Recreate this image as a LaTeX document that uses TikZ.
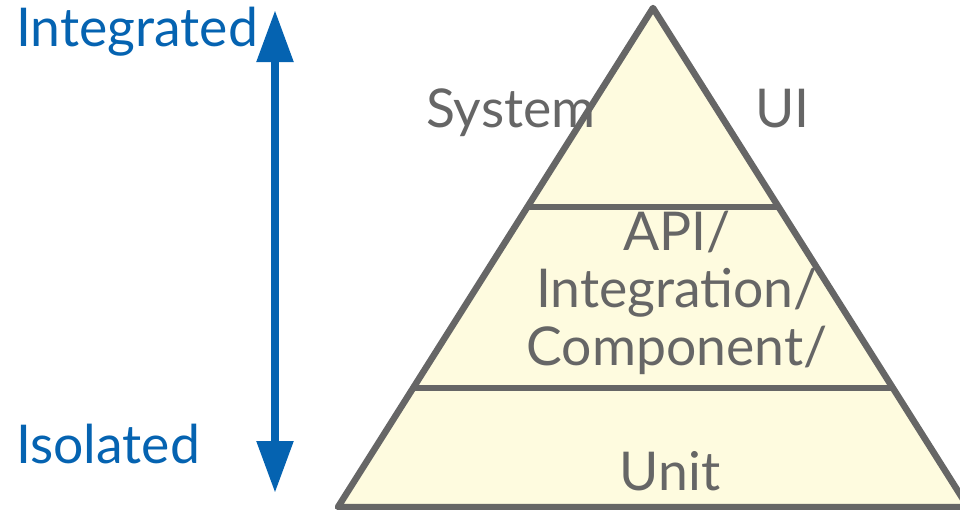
\documentclass[tikz,border=0pt]{standalone}
\usepackage{fontspec}
\setmainfont{Lato}
\usetikzlibrary{arrows.meta,calc}
\definecolor{levelgray}{HTML}{666666}
\definecolor{levelfill}{HTML}{FEFBDF}
\definecolor{axisblue}{HTML}{0563B1}
\tikzset{
  bigtext/.style={font=\fontsize{53.5}{57.5}\selectfont, inner sep=0pt},
  leveltext/.style={bigtext, text=levelgray},
  axistext/.style={bigtext, text=axisblue, anchor=base west},
  outline/.style={draw=levelgray, line width=6.5pt, line join=round},
  axis/.style={draw=axisblue, line width=8.5pt,
    {Triangle[length=52pt,width=35pt]}-{Triangle[length=52pt,width=35pt]}}
}
\begin{document}
\begin{tikzpicture}[x=1pt,y=-1pt]
  \useasboundingbox (0,0) rectangle (960,509);
  \clip (0,0) rectangle (960,509);

  % pyramid corners and level boundaries
  \coordinate (apex) at (653,8);
  \coordinate (bl) at (338,507);
  \coordinate (br) at (968,507);
  \coordinate (l1a) at ($(apex)!0.3988!(bl)$);
  \coordinate (l1b) at ($(apex)!0.3988!(br)$);
  \coordinate (l2a) at ($(apex)!0.7615!(bl)$);
  \coordinate (l2b) at ($(apex)!0.7615!(br)$);

  \fill[levelfill] (apex) -- (bl) -- (br) -- cycle;

  % level labels
  \node[leveltext, anchor=base west] (system) at (426,127) {System};
  \node[leveltext, anchor=base west] (ui) at (755,127) {UI};
  \node[leveltext, anchor=base, align=center] (middle) at (677,365)
    {API/\\Integration/\\Component/};
  \node[leveltext, anchor=base] (unit) at (670,490) {Unit};

  % outline and level boundaries
  \draw[outline] (l1a) -- (l1b);
  \draw[outline] (l2a) -- (l2b);
  \draw[outline] (apex) -- (bl) -- (br) -- cycle;

  % integration axis
  \node[axistext] (integrated) at (16,46) {Integrated};
  \node[axistext] (isolated) at (16,463) {Isolated};
  \coordinate (axtop) at (275,10);
  \coordinate (axbot) at (275,493);
  \draw[axis] (axbot) -- (axtop);
\end{tikzpicture}
\end{document}
